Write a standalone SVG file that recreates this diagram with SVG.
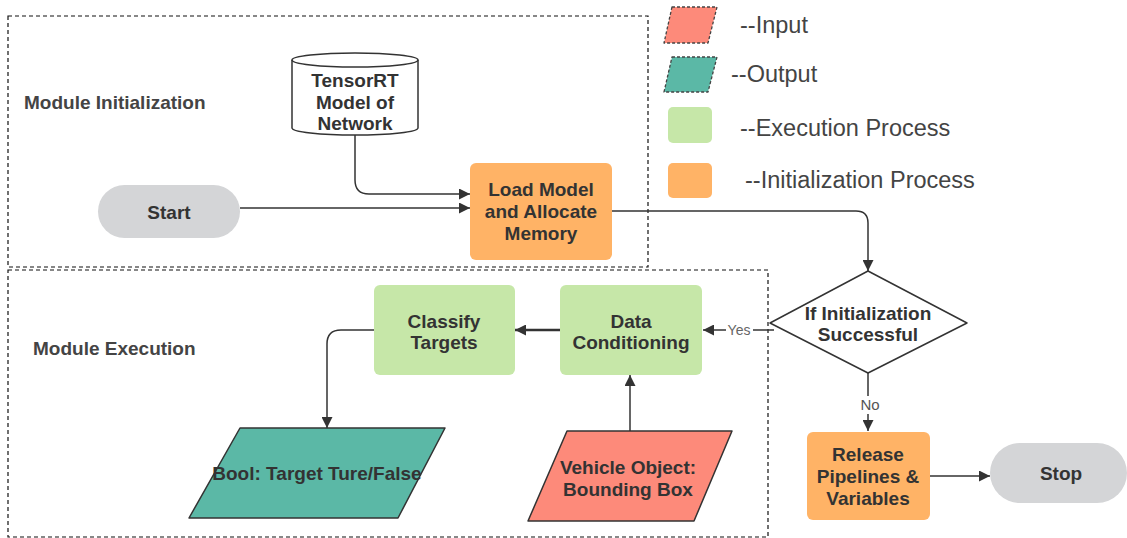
<svg xmlns="http://www.w3.org/2000/svg" width="1127" height="538" viewBox="0 0 1127 538">
  <defs>
    <marker id="arrow" viewBox="0 0 10 10" refX="10" refY="5" markerWidth="11" markerHeight="11" markerUnits="userSpaceOnUse" orient="auto">
      <path d="M0,0 L10,5 L0,10 Z" fill="#333"/>
    </marker>
    <style>
      .bg { fill: #ffffff; }
      .region { fill: none; stroke: #111; stroke-width: 1.2; stroke-dasharray: 4 3; }
      .region-label { font-family: "Liberation Sans", Arial, sans-serif; font-size: 19px; font-weight: bold; fill: #444; }
      .label { font-family: "Liberation Sans", Arial, sans-serif; font-size: 19px; font-weight: bold; fill: #333; text-anchor: middle; }
      .legend-text { font-family: "Liberation Sans", Arial, sans-serif; font-size: 23.5px; fill: #444; }
      .edge-label { font-family: "Liberation Sans", Arial, sans-serif; font-size: 14px; fill: #666; text-anchor: middle; }
      .edge { fill: none; stroke: #333; stroke-width: 1.5; }
      .terminal { fill: #D4D5D7; }
      .init { fill: #FFB366; }
      .exec { fill: #C6E7A8; }
      .store { fill: #fff; stroke: #333; stroke-width: 1.5; }
      .decision { fill: #fff; stroke: #333; stroke-width: 1.5; stroke-linejoin: round; }
      .io { stroke: #333; stroke-width: 1.5; stroke-linejoin: round; }
      .in { fill: #FD8A7A; }
      .out { fill: #5BB8A6; }
      .legend-io { stroke: #444; stroke-width: 1.3; stroke-dasharray: 3 2; stroke-linejoin: round; }
    </style>
  </defs>

  <rect class="bg" x="0" y="0" width="1127" height="538"/>

  <!-- swimlane regions -->
  <g id="region-init">
    <rect class="region" x="8" y="16" width="640" height="251"/>
    <text class="region-label" x="24" y="109">Module Initialization</text>
  </g>
  <g id="region-exec">
    <rect class="region" x="8" y="270" width="760" height="267"/>
    <text class="region-label" x="33" y="355">Module Execution</text>
  </g>

  <!-- legend -->
  <g id="legend">
    <path class="in legend-io" d="M672,7 H717 L708,43 H664 Z"/>
    <text class="legend-text" x="740" y="33">--Input</text>
    <path class="out legend-io" d="M672,57 H717 L708,92 H664 Z"/>
    <text class="legend-text" x="731" y="82">--Output</text>
    <rect class="exec" x="668" y="107" width="44" height="36" rx="5"/>
    <text class="legend-text" x="740" y="136">--Execution Process</text>
    <rect class="init" x="668" y="163" width="44" height="35" rx="5"/>
    <text class="legend-text" x="745" y="188">--Initialization Process</text>
  </g>

  <!-- connectors -->
  <g id="connectors">
    <path class="edge" d="M355,135 V180 Q355,194 369,194 H470" marker-end="url(#arrow)"/>
    <path class="edge" d="M240,208 H470" marker-end="url(#arrow)"/>
    <path class="edge" d="M612,211 H856 Q868,211 868,223 V271" marker-end="url(#arrow)"/>
    <path class="edge" d="M774,330 H703" marker-end="url(#arrow)"/>
    <path class="edge" d="M868,373 V431" marker-end="url(#arrow)"/>
    <path class="edge" d="M930,476 H990" marker-end="url(#arrow)"/>
    <path class="edge" d="M630,431 V375" marker-end="url(#arrow)"/>
    <path class="edge" style="stroke-width:2.5" d="M560,330 H515" marker-end="url(#arrow)"/>
    <path class="edge" d="M374,330 H341 Q327,330 327,344 V428" marker-end="url(#arrow)"/>
    <rect class="bg" x="726" y="321" width="27" height="17"/>
    <text class="edge-label" x="739" y="335">Yes</text>
    <rect class="bg" x="858" y="396" width="22" height="18"/>
    <text class="edge-label" x="870" y="410" style="font-size:15px;fill:#555">No</text>
  </g>

  <!-- nodes -->
  <g id="start">
    <rect class="terminal" x="98" y="185" width="142" height="53" rx="26.5"/>
    <text class="label" x="169" y="219">Start</text>
  </g>

  <g id="tensorrt-model">
    <path class="store" d="M292,60 A63,7 0 0 1 418,60 V128 A63,7 0 0 1 292,128 Z"/>
    <path class="store" style="fill:none" d="M292,60 A63,7 0 0 0 418,60"/>
    <text class="label" x="355" y="87">TensorRT</text>
    <text class="label" x="355" y="109">Model of</text>
    <text class="label" x="355" y="130">Network</text>
  </g>

  <g id="load-model">
    <rect class="init" x="470" y="163" width="142" height="97" rx="6"/>
    <text class="label" x="541" y="196">Load Model</text>
    <text class="label" x="541" y="218">and Allocate</text>
    <text class="label" x="541" y="240">Memory</text>
  </g>

  <g id="init-check">
    <path class="decision" d="M868,271 L967,323 L868,373 L770,323 Z"/>
    <text class="label" x="868" y="320">If Initialization</text>
    <text class="label" x="868" y="341">Successful</text>
  </g>

  <g id="data-conditioning">
    <rect class="exec" x="560" y="285" width="142" height="90" rx="6"/>
    <text class="label" x="631" y="328">Data</text>
    <text class="label" x="631" y="349">Conditioning</text>
  </g>

  <g id="classify-targets">
    <rect class="exec" x="374" y="285" width="141" height="90" rx="6"/>
    <text class="label" x="444" y="328">Classify</text>
    <text class="label" x="444" y="349">Targets</text>
  </g>

  <g id="bool-output">
    <path class="io out" d="M240,428 H445 L398,518 H189 Z"/>
    <text class="label" x="317" y="480">Bool: Target Ture/False</text>
  </g>

  <g id="vehicle-input">
    <path class="io in" d="M567,431 H732 L694,521 H528 Z"/>
    <text class="label" x="628" y="474">Vehicle Object:</text>
    <text class="label" x="628" y="496">Bounding Box</text>
  </g>

  <g id="release">
    <rect class="init" x="807" y="432" width="123" height="88" rx="6"/>
    <text class="label" x="868" y="461">Release</text>
    <text class="label" x="868" y="483">Pipelines &amp;</text>
    <text class="label" x="868" y="505">Variables</text>
  </g>

  <g id="stop">
    <rect class="terminal" x="990" y="443" width="137" height="60" rx="30"/>
    <text class="label" x="1061" y="480">Stop</text>
  </g>
</svg>
